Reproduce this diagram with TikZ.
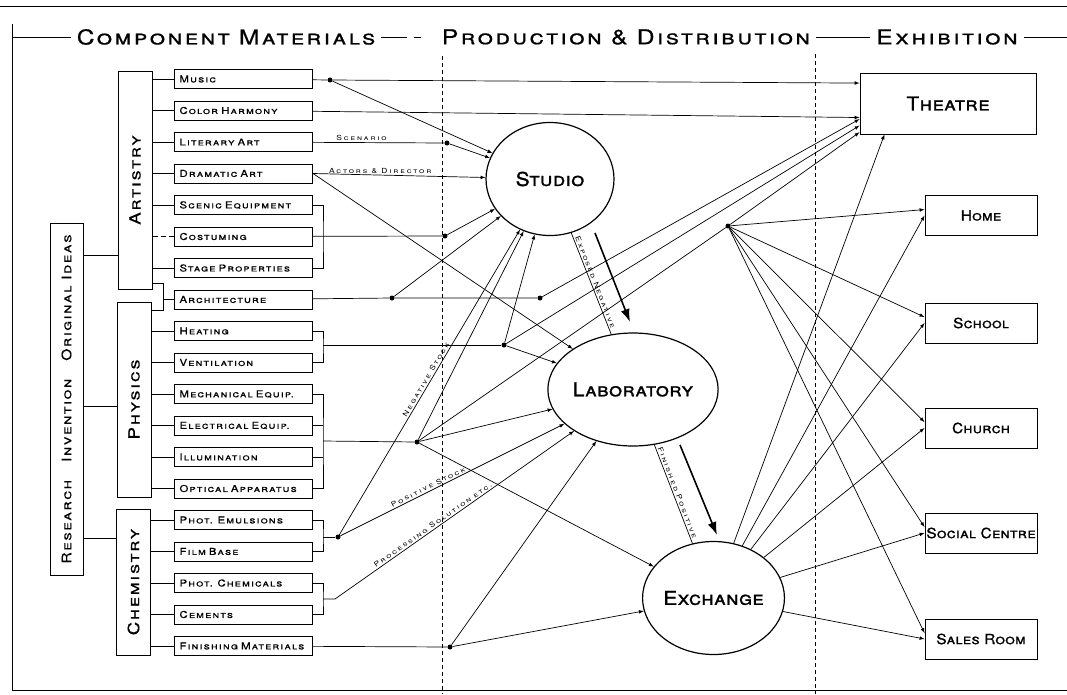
\documentclass[tikz,border=0pt]{standalone}
\usepackage{fontspec}
\setmainfont{TeX Gyre Heros}
\newfontfamily\lettering[Letters=SmallCaps,FakeStretch=1.2,LetterSpace=12,FakeBold=0.6]{TeX Gyre Heros}
\newfontfamily\bigletter[Letters=SmallCaps,FakeStretch=1.1,LetterSpace=2,FakeBold=1.2]{TeX Gyre Heros}
\newfontfamily\smallletter[Letters=SmallCaps,FakeStretch=1.2,LetterSpace=27]{TeX Gyre Heros}
\usepackage{tikz}
\usetikzlibrary{shapes,arrows,arrows.meta,positioning,calc}

\begin{document}
\begin{tikzpicture}[x=1pt, y=-1pt,
  every node/.style={font=\lettering},
  heading/.style={font=\lettering\fontsize{20.5}{21}\selectfont, inner sep=6pt},
  item/.style={draw, line width=1pt, minimum height=19pt, text width=128pt, inner xsep=5pt, inner ysep=0pt, align=left, font=\lettering\fontsize{9.5}{10}\selectfont},
  branch/.style={draw, line width=1pt, rotate=90, minimum height=34pt, inner sep=0pt, font=\lettering\fontsize{15.5}{16}\selectfont},
  stage/.style={ellipse, draw, line width=1.2pt, minimum width=128pt, minimum height=113pt, inner sep=0pt, font=\bigletter\fontsize{19}{20}\selectfont},
  outlet/.style={draw, line width=1pt, minimum width=112pt, minimum height=40pt, inner sep=0pt, font=\bigletter\fontsize{14}{15}\selectfont},
  dot/.style={circle, fill, inner sep=0pt, minimum size=5pt},
  link/.style={line width=0.7pt},
  feed/.style={-latex, line width=0.7pt},
  note/.style={font=\smallletter\fontsize{7}{8}\selectfont, inner sep=1.5pt},
  flow/.style={-{Latex[length=13pt,width=9pt]}, line width=1.6pt},
  divider/.style={dash pattern=on 4pt off 3pt, line width=0.6pt}
]
\useasboundingbox (0,0) rectangle (1067,694);

% Frame and headings
\draw[line width=0.8pt] (0,6) -- (1067,6);
\draw[line width=0.8pt] (12,24) -- (12,690) -- (1067,690);
\node[heading] (comp) at (226,37) {Component Materials};
\node[heading] (prod) at (626,37) {Production \& Distribution};
\node[heading] (exhib) at (947,37) {Exhibition};
\coordinate (hl) at (12,37);
\coordinate (hr) at (1067,37);
\draw[link] (hl) -- (comp);
\draw[link, dash pattern=on 26pt off 7pt on 7pt off 100pt] (comp) -- (prod);
\draw[link] (prod) -- (exhib);
\draw[link] (exhib) -- (hr);
\draw[divider] (442,56) -- (442,694);
\draw[divider] (815,54) -- (815,694);

% Sources
\node[branch, minimum width=352pt, minimum height=33pt, font=\lettering\fontsize{13}{14}\selectfont] (ideas) at (66.5,399) {Research\hspace{18pt}Invention\hspace{18pt}Original Ideas};
\node[branch, minimum width=218pt] (artistry) at (135,180) {Artistry};
\node[branch, minimum width=195pt] (physics) at (134,399.5) {Physics};
\node[branch, minimum width=146pt] (chemistry) at (133.5,582) {Chemistry};

% Component materials
\node[item] (music) at (243.5,79) {Music};
\node[item] (color) at (243.5,110.5) {Color Harmony};
\node[item] (literary) at (243.5,142) {Literary Art};
\node[item] (dramatic) at (243.5,173.5) {Dramatic Art};
\node[item] (scenic) at (243.5,205) {Scenic Equipment};
\node[item] (costume) at (243.5,236.5) {Costuming};
\node[item] (props) at (243.5,268) {Stage Properties};
\node[item] (arch) at (243.5,299.5) {Architecture};
\node[item] (heating) at (243.5,331) {Heating};
\node[item] (vent) at (243.5,362.5) {Ventilation};
\node[item] (mech) at (243.5,394) {Mechanical Equip.};
\node[item] (elec) at (243.5,425.5) {Electrical Equip.};
\node[item] (illum) at (243.5,457) {Illumination};
\node[item] (optical) at (243.5,488.5) {Optical Apparatus};
\node[item] (emuls) at (243.5,520) {Phot. Emulsions};
\node[item] (filmbase) at (243.5,551.5) {Film Base};
\node[item] (photchem) at (243.5,583) {Phot. Chemicals};
\node[item] (cements) at (243.5,614.5) {Cements};
\node[item] (finishing) at (243.5,646) {Finishing Materials};

% Production stages
\node[stage] (studio) at (550,179) {Studio};
\node[stage] (lab) at (633,389.5) {Laboratory};
\node[stage] (exchange) at (713.5,598) {Exchange};

% Exhibition
\node[outlet, minimum width=176pt, minimum height=61pt, font=\bigletter\fontsize{19}{20}\selectfont] (theatre) at (948,103.5) {Theatre};
\node[outlet] (home) at (981,215.5) {Home};
\node[outlet] (school) at (981,323) {School};
\node[outlet] (church) at (981,428) {Church};
\node[outlet] (social) at (981,533) {Social Centre};
\node[outlet] (sales) at (981,639) {Sales Room};

% Junctions
\node[dot] (dmusic) at (330,80) {};
\node[dot] (dscen) at (447,143) {};
\node[dot] (dcost) at (445,236) {};
\node[dot] (darch) at (392,298) {};
\node[dot] (darchb) at (540,298) {};
\node[dot] (dheat) at (504,345) {};
\node[dot] (delec) at (417,442) {};
\node[dot] (dchem) at (338,537) {};
\node[dot] (dfin) at (450,647) {};
\node[dot] (ddist) at (728,226) {};
\coordinate (fa) at (163,283);
\coordinate (fb) at (163,310);
\coordinate (bscen) at (323,236.5);
\coordinate (bheat) at (323,345);
\coordinate (bphys) at (323,441);
\coordinate (bfilm) at (323,537);
\coordinate (bchem) at (323,599);

% Branch links
\draw[link] (ideas.south |- 0,255) -- (artistry.north |- 0,255);
\draw[link] (ideas.south |- 0,406) -- (physics.north |- 0,406);
\draw[link] (ideas.south |- 0,538) -- (chemistry.north |- 0,538);
\foreach \n in {music,color,literary,dramatic,scenic,props}
  \draw[link] (\n.west) -- (\n.west -| artistry.south);
\draw[link, dash pattern=on 5pt off 3pt] (costume.west) -- (costume.west -| artistry.south);
\foreach \n in {heating,vent,mech,elec,illum,optical}
  \draw[link] (\n.west) -- (\n.west -| physics.south);
\foreach \n in {emuls,filmbase,photchem,cements,finishing}
  \draw[link] (\n.west) -- (\n.west -| chemistry.south);
\draw[link] (fa -| artistry.south) -- (fa) -- (fb) -- (fb -| physics.south);
\draw[link] (arch.west) -- (arch.west -| fa);

% Brackets
\draw[link] (scenic.east) -| (bscen) |- (props.east);
\draw[link] (heating.east) -| (bheat) |- (vent.east);
\draw[link] (mech.east) -| (bphys) |- (optical.east);
\draw[link] (elec.east) -- (elec.east -| bphys);
\draw[link] (illum.east) -- (illum.east -| bphys);
\draw[link] (emuls.east) -| (bfilm) |- (filmbase.east);
\draw[link] (photchem.east) -| (bchem) |- (cements.east);

% Into the studio
\draw[link] (music) -- (dmusic);
\draw[feed] (dmusic) -- (theatre.167);
\draw[feed] (dmusic) -- (studio);
\draw[feed] (color) -- (theatre.189);
\draw[link] (literary) -- node[note, above, pos=0.37] {Scenario} (dscen);
\draw[feed] (dscen) -- (studio);
\draw[feed] (dramatic.east) -- node[note, above, pos=0.39] {Actors \& Director} (studio);
\draw[feed] (dramatic.east) -- (lab);
\draw[link] (costume) -- (dcost);
\draw[feed] (dcost) -- (studio);
\draw[link] (arch) -- (darch) -- (darchb);
\draw[feed] (darch) -- (studio);
\draw[feed] (darchb) -- (theatre.190);

% Into the laboratory
\draw[link] (bheat) -- (dheat);
\draw[feed] (dheat) -- (studio);
\draw[feed] (dheat) -- (lab);
\draw[feed] (dheat) -- (theatre.194);
\draw[link] (bphys) -- (delec);
\draw[feed] (delec) -- (studio);
\draw[feed] (delec) -- (lab);
\draw[feed] (delec) -- (exchange);
\draw[link] (delec) -- (ddist);
\draw[feed] (ddist) -- (theatre.198);
\draw[link] (bfilm) -- (dchem);
\draw[feed] (dchem) -- node[note, sloped, above, pos=0.5] {Negative Stock} (studio);
\draw[feed] (dchem) -- node[note, sloped, above, pos=0.4] {Positive Stock} (lab);
\draw[feed] (bchem) -- ++(12,0) -- node[note, sloped, above, pos=0.42] {Processing Solution etc.} (lab);
\draw[link] (finishing) -- (dfin);
\draw[feed] (dfin) -- (lab);
\draw[feed] (dfin) -- (exchange);

% Studio to laboratory to exchange
\draw[link] (studio) -- node[note, sloped, above] {Exposed Negative} (lab);
\draw[link] (lab) -- node[note, sloped, above] {Finished Positive} (exchange);
\coordinate (neg1) at (595,233);
\coordinate (neg2) at (630,322);
\coordinate (pos1) at (680,445);
\coordinate (pos2) at (717,535);
\draw[flow] (neg1) -- (neg2);
\draw[flow] (pos1) -- (pos2);

% Out to exhibition
\draw[feed] (exchange) -- (theatre.206);
\foreach \t in {home,school,church,social,sales} {
  \draw[feed] (exchange) -- (\t.west);
  \draw[feed] (ddist) -- (\t.174);
}

\end{tikzpicture}
\end{document}
